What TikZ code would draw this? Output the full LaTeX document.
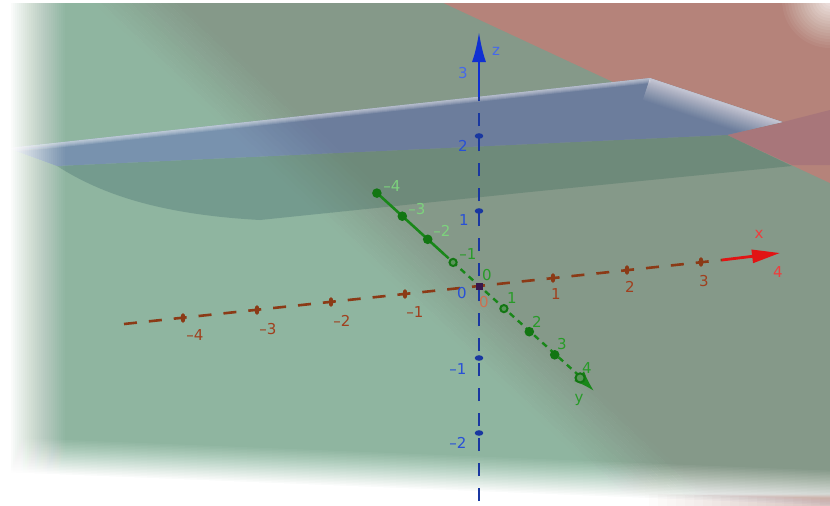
\documentclass[tikz,border=0pt]{standalone}
\usepackage{fontspec}
\newfontfamily\ggfont{DejaVu Sans}
\usetikzlibrary{arrows.meta}
\definecolor{lgreen}{RGB}{143,181,160}
\definecolor{ggreen}{RGB}{133,153,137}
\definecolor{rplane}{RGB}{181,131,122}
\definecolor{rshadow}{RGB}{168,118,122}
\definecolor{shL}{RGB}{116,155,142}
\definecolor{shD}{RGB}{110,138,122}
\definecolor{blL}{RGB}{120,146,174}
\definecolor{blD}{RGB}{108,125,156}
\definecolor{zsolid}{RGB}{16,48,210}
\definecolor{zdash}{RGB}{25,55,160}
\definecolor{zlab}{RGB}{40,80,215}
\definecolor{zlabL}{RGB}{70,105,235}
\definecolor{xaxis}{RGB}{139,58,22}
\definecolor{xlab}{RGB}{160,64,30}
\definecolor{xzero}{RGB}{205,112,80}
\definecolor{xred}{RGB}{225,20,20}
\definecolor{xredL}{RGB}{240,60,60}
\definecolor{yaxis}{RGB}{25,135,25}
\definecolor{ypt}{RGB}{18,118,18}
\definecolor{ylight}{RGB}{90,150,90}
\definecolor{ylab}{RGB}{40,155,40}
\definecolor{ylabL}{RGB}{125,210,125}
\newcommand\splitfill[2]{%
  \begin{scope}[shift={(405pt,-253pt)}, rotate=46.9, x=1pt, y=1pt]
    \fill[#1] (-1500,-1500) -- (-29,-1500) -- (-29,1500) -- (-1500,1500) -- cycle;
    \fill[#2] (29,-1500) -- (1500,-1500) -- (1500,1500) -- (29,1500) -- cycle;
    \foreach \i in {0,...,11}{%
      \pgfmathsetmacro\pp{(\i+0.5)*100/12}%
      \fill[#2!\pp!#1] (-30+\i*5,-1500) -- (-24.6+\i*5,-1500) -- (-24.6+\i*5,1500) -- (-30+\i*5,1500) -- cycle;
    }
  \end{scope}}
\begin{document}
\begin{tikzpicture}[x=1pt,y=-1pt,
  lbl/.style={font=\ggfont\fontsize{15}{15}\selectfont, inner sep=0pt},
  zdashed/.style={draw=zdash, line width=2.6pt, dash pattern=on 13pt off 12pt},
  xdashed/.style={draw=xaxis, line width=2.6pt, dash pattern=on 13pt off 12pt},
  ydashed/.style={draw=yaxis, line width=2.4pt, dash pattern=on 6pt off 5pt},
  ysolid/.style={draw=yaxis, line width=2.6pt}]
\useasboundingbox (0,0) rectangle (830,506);
\clip (0,0) rectangle (830,506);
% background planes
\splitfill{lgreen}{ggreen}
\fill[rplane] (437,0) -- (860,0) -- (860,197) -- cycle;
\fill[rshadow] (727,135) -- (783,122) -- (830,110) -- (830,165) -- (792,165) -- cycle;
\begin{scope}
  \clip (57,166) -- (727,135) -- (792,166) -- (530,192) -- (260,220) .. controls (150,214) and (95,190) .. (57,166) -- cycle;
  \splitfill{shL}{shD}
\end{scope}
\begin{scope}
  \clip (8,148) -- (650,78) -- (783,122) -- (727,135) -- (57,166) -- cycle;
  \splitfill{blL}{blD}
  \foreach \k in {1,...,22}{%
    \pgfmathsetmacro\cc{0.6*\k/22}%
    \pgfmathsetmacro\cp{0.6*(\k-1)/22}%
    \pgfmathsetmacro\aa{1-(1-\cc)/(1-\cp)}%
    \draw[white, opacity=\aa, line width=48-2*\k pt] (650,78) -- (783,122);
  }
  \foreach \w in {10,8,6,4,2} \draw[white, opacity=0.13, line width=\w pt] (8,148) -- (650,78);
\end{scope}
% soft white frame
\fill[white] (0,0) rectangle (9.2,506);
\foreach \k in {1,...,28}{%
  \pgfmathsetmacro\op{1/(29-\k)}%
  \fill[white, opacity=\op] (0,0) rectangle (67-2*\k,506);
}
\begin{scope}[rotate around={-2.3:(415,470)}]
  \foreach \k in {1,...,24}{%
    \pgfmathsetmacro\op{1/(25-\k)}%
    \fill[white, opacity=\op] (-60,452.5+1.5*\k) rectangle (900,570);
  }
\end{scope}
\foreach \k in {1,...,20}{%
  \pgfmathsetmacro\cc{0.45*\k/20}%
  \pgfmathsetmacro\cp{0.45*(\k-1)/20}%
  \pgfmathsetmacro\aa{1-(1-\cc)/(1-\cp)}%
  \fill[rplane, opacity=\aa] (640+9*\k,494+0.2*\k) rectangle (840,510);
}
\fill[white] (0,0) rectangle (830,3);
\foreach \k in {1,...,15}{%
  \pgfmathsetmacro\cc{0.75*\k/15}%
  \pgfmathsetmacro\cp{0.75*(\k-1)/15}%
  \pgfmathsetmacro\aa{1-(1-\cc)/(1-\cp)}%
  \fill[white, opacity=\aa] (830,0) circle (51-3*\k);
}
% coordinates
\coordinate (O) at (479,286);
\coordinate (xL) at (124,324);
\coordinate (xE) at (722,260);
\coordinate (xT) at (780,253);
\coordinate (zB) at (479,501);
\coordinate (zM) at (479,97);
\coordinate (zT) at (479,32);
\coordinate (yA) at (377,193);
\coordinate (yB) at (444.2,254.3);
\coordinate (yT) at (594,391);
% z axis
\draw[zdashed] (zB) -- (zM);
\draw[draw=zsolid, line width=2.6pt, -{Latex[length=30pt,width=14pt]}] (zM) -- (zT);
\foreach \yy in {136,211,358,433} \fill[zdash] (479,\yy) ellipse [x radius=4.3, y radius=2.8];
% x axis
\draw[xdashed] (xL) -- (xE);
\draw[draw=xred, line width=2.8pt, -{Triangle[length=28pt,width=13pt]}] (xE) -- (xT);
\foreach \k in {-4,-3,-2,-1,1,2,3} \fill[xaxis] (479+74*\k,286-8*\k) ellipse [x radius=2.4, y radius=4.8];
% y axis
\draw[ysolid] (yA) -- (yB);
\draw[ydashed] (yB) -- (585,381);
\draw[draw=yaxis, line width=2.4pt, -{Latex[length=21pt,width=14pt]}] (578,375) -- (yT);
\foreach \t in {-4,-3,-2,2,3} \fill[ypt] (478.5+25.4*\t,285.5+23.1*\t) circle (4.8);
\foreach \t in {-1,1} \filldraw[fill=ylight, draw=ypt, line width=2pt] (478.5+25.4*\t,285.5+23.1*\t) circle (3.6);
\filldraw[fill=ylight, draw=ypt, line width=2pt] (580.1,377.9) circle (4.6);
\fill[black!55!blue!60!xaxis] (475.5,282.5) rectangle (482.5,289.5);
% z labels
\node[lbl, text=zlabL] (lz) at (496,51) {z};
\node[lbl, text=zlabL] (lz3) at (463,73) {3};
\node[lbl, text=zlab] (lz2) at (463,146) {2};
\node[lbl, text=zlab] (lz1) at (464,220) {1};
\node[lbl, text=zlab] (lz0) at (462,293) {0};
\node[lbl, text=zlab] (lzm1) at (458,369) {–1};
\node[lbl, text=zlab] (lzm2) at (458,443) {–2};
% x labels
\node[lbl, text=xlab] (lxm4) at (195,335) {–4};
\node[lbl, text=xlab] (lxm3) at (268,329) {–3};
\node[lbl, text=xlab] (lxm2) at (342,321) {–2};
\node[lbl, text=xlab] (lxm1) at (415,312) {–1};
\node[lbl, text=xzero] (lx0) at (484,302) {0};
\node[lbl, text=xlab] (lx1) at (556,294) {1};
\node[lbl, text=xlab] (lx2) at (630,287) {2};
\node[lbl, text=xlab] (lx3) at (704,281) {3};
\node[lbl, text=xredL] (lx) at (759,234) {x};
\node[lbl, text=xredL] (lx4) at (778,272) {4};
% y labels
\node[lbl, text=ylabL] (lym4) at (392,186) {–4};
\node[lbl, text=ylabL] (lym3) at (417,209) {–3};
\node[lbl, text=ylabL] (lym2) at (442,231) {–2};
\node[lbl, text=ylab] (lym1) at (468,254) {–1};
\node[lbl, text=ylab] (ly0) at (487,275) {0};
\node[lbl, text=ylab] (ly1) at (512,298) {1};
\node[lbl, text=ylab] (ly2) at (537,322) {2};
\node[lbl, text=ylab] (ly3) at (562,344) {3};
\node[lbl, text=ylab] (ly4) at (587,368) {4};
\node[lbl, text=ylab] (ly) at (579,400) {y};
\end{tikzpicture}
\end{document}
